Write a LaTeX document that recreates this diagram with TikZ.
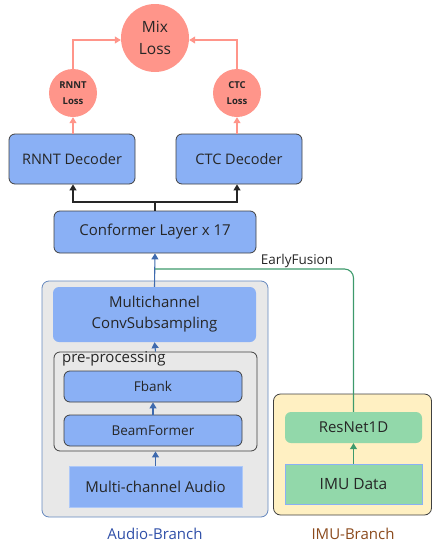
\documentclass[tikz,border=0pt]{standalone}
\usepackage{fontspec}
\setmainfont{Open Sans}
\usepackage{xcolor}
\usetikzlibrary{positioning,arrows.meta}

\definecolor{blockblue}{HTML}{8AB0F5}
\definecolor{lossred}{HTML}{FF958A}
\definecolor{arrblue}{HTML}{3E6AAE}
\definecolor{fusegreen}{HTML}{3D9A6C}
\definecolor{imugreen}{HTML}{92D8AA}
\definecolor{imuyellow}{HTML}{FFF0C2}
\definecolor{branchgray}{HTML}{E8E8E8}
\definecolor{edgegray}{HTML}{404040}
\definecolor{audiotext}{HTML}{2F4FA8}
\definecolor{imutext}{HTML}{8B4A1C}

\begin{document}
\begin{tikzpicture}[
    x=1pt, y=-1pt,
    block/.style={draw=edgegray, line width=0.8pt, rounded corners=6pt, fill=blockblue,
                  align=center, text=black!85, inner sep=0pt},
    flat/.style={fill=blockblue, rounded corners=6pt, align=center, text=black!85, inner sep=0pt},
    loss/.style={circle, fill=lossred, align=center, inner sep=0pt, text=black!85},
    arr/.style={-{Triangle[length=6pt,width=7pt]}, line width=1.1pt},
    lossarr/.style={arr, draw=lossred},
    audioarr/.style={arr, draw=arrblue},
    imuarr/.style={arr, draw=fusegreen},
  ]
  \useasboundingbox (0,0) rectangle (432,544);

  % Branch containers
  \node[draw=arrblue!80, line width=0.8pt, fill=branchgray, rounded corners=7pt,
        minimum width=226pt, minimum height=236pt] (audiobranch) at (155,399) {};
  \node[draw=edgegray, line width=0.8pt, fill=imuyellow, rounded corners=7pt,
        minimum width=158pt, minimum height=121pt] (imubranch) at (352.5,454.5) {};
  \node[font=\fontsize{15}{17}\selectfont, text=audiotext] (audiolbl) at (155,534) {Audio-Branch};
  \node[font=\fontsize{15}{17}\selectfont, text=imutext] (imulbl) at (353,534) {IMU-Branch};

  % Audio branch
  \node[flat, minimum width=203pt, minimum height=55pt, font=\fontsize{15}{21}\selectfont]
        (convsub) at (154.5,314.5) {Multichannel\\ConvSubsampling};
  \node[draw=edgegray, line width=0.8pt, fill=branchgray, rounded corners=6pt,
        minimum width=203pt, minimum height=99pt] (pre) at (155.5,401.5) {};
  \node[anchor=west, font=\fontsize{15}{17}\selectfont, text=black!85, inner sep=0pt]
        (prelbl) at (62,359) {pre-processing};
  \node[block, minimum width=178pt, minimum height=31pt, font=\fontsize{13.5}{15}\selectfont]
        (fbank) at (153,386.5) {Fbank};
  \node[block, minimum width=178pt, minimum height=31pt, font=\fontsize{13.5}{15}\selectfont]
        (beam) at (153,430.5) {BeamFormer};
  \node[fill=blockblue, draw=blockblue!70!white, minimum width=173pt, minimum height=41pt,
        font=\fontsize{15}{17}\selectfont, text=black!85, inner sep=0pt]
        (audio) at (155.5,486.5) {Multi-channel Audio};

  % IMU branch
  \node[fill=imugreen, rounded corners=6pt, minimum width=137pt, minimum height=31pt,
        font=\fontsize{15}{17}\selectfont, text=black!85, inner sep=0pt]
        (resnet) at (353.5,427.5) {ResNet1D};
  \node[fill=imugreen, draw=blockblue, minimum width=137pt, minimum height=40pt,
        font=\fontsize{15.5}{17}\selectfont, text=black!85, inner sep=0pt]
        (imudata) at (353.5,484) {IMU Data};

  % Encoder and decoders
  \node[block, minimum width=202pt, minimum height=42pt, font=\fontsize{15}{17}\selectfont]
        (conformer) at (155,232) {Conformer Layer x 17};
  \node[block, minimum width=126pt, minimum height=50pt, font=\fontsize{14.5}{17}\selectfont]
        (rnntdec) at (72,159) {RNNT Decoder};
  \node[block, minimum width=126pt, minimum height=50pt, font=\fontsize{14.5}{17}\selectfont]
        (ctcdec) at (239,159) {CTC Decoder};

  % Losses
  \node[loss, minimum size=48pt, font=\fontsize{9.5}{16}\selectfont\bfseries]
        (rnntloss) at (73,93) {RNNT\\Loss};
  \node[loss, minimum size=48pt, font=\fontsize{9.5}{16}\selectfont\bfseries]
        (ctcloss) at (237,93) {CTC\\Loss};
  \node[loss, minimum size=68pt, font=\fontsize{15.5}{22}\selectfont]
        (mix) at (155,38) {Mix\\Loss};

  \coordinate (split) at (155,202);
  \coordinate (fusion) at (155,269);
  \node[font=\fontsize{13.5}{15}\selectfont, text=black!85, inner sep=0pt]
        (fusionlbl) at (297,261) {EarlyFusion};

  % Connectors
  \draw[audioarr] (audio.north) -- (pre.south);
  \draw[audioarr] (beam.north) -- (fbank.south);
  \draw[audioarr] (pre.north) -- (convsub.south);
  \draw[audioarr] (convsub.north) -- (conformer.south);
  \draw[imuarr] (imudata.north) -- (resnet.north |- resnet.south);
  \draw[fusegreen, line width=1.1pt, rounded corners=9pt] (resnet.north) |- (fusion);

  \draw[line width=1.1pt, draw=black!85] (conformer.north) -- (split);
  \draw[arr, draw=black!85] (split) -| (rnntdec.south -| rnntloss.south);
  \draw[arr, draw=black!85] (split) -| (ctcdec.south -| ctcloss.south);

  \draw[lossarr] (rnntdec.north -| rnntloss.south) -- (rnntloss.south);
  \draw[lossarr] (ctcdec.north -| ctcloss.south) -- (ctcloss.south);
  \draw[lossarr] (rnntloss.north) |- (mix.west |- 0,40);
  \draw[lossarr] (ctcloss.north) |- (mix.east |- 0,40);

\end{tikzpicture}
\end{document}
